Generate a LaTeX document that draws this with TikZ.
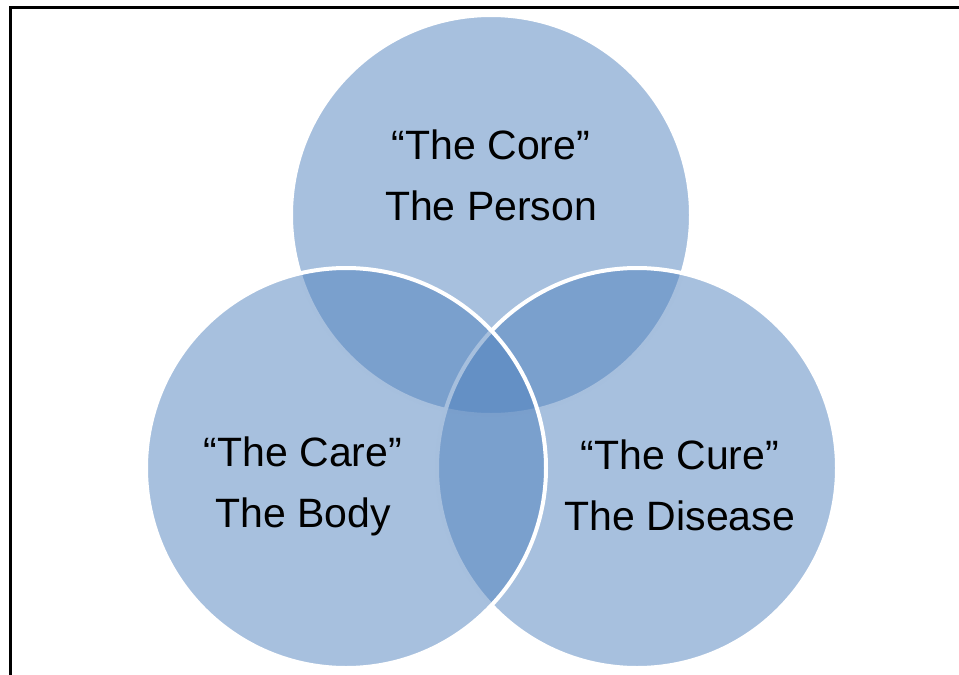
\documentclass[tikz,border=0pt]{standalone}
\usepackage{fontspec}
\setmainfont{Liberation Sans}
\usepackage{tikz}
\definecolor{vennblue}{RGB}{79,129,189}
\tikzset{
    venn/.style={circle, minimum size=400pt, inner sep=0pt, fill=vennblue, fill opacity=0.5, draw=white, line width=4pt},
    venntext/.style={align=center, anchor=base, font=\fontsize{41}{61}\selectfont}
}

\begin{document}
\begin{tikzpicture}[x=1pt, y=-1pt]
                        \useasboundingbox (0,0) rectangle (959,675);
                        \draw [line width=3pt] (10.5,675) -- (10.5,7.5) -- (959,7.5);
                        \foreach \name/\x/\y in {core/491/215, cure/637/468, care/346/468}
                        {
                            \node [venn] (\name) at (\x,\y) {};
                        }
                        \node [venntext] (coretext) at (491, 220) {“The Core”\\The Person};
                        \node [venntext] (caretext) at (303, 527) {“The Care”\\The Body};
                        \node [venntext] (curetext) at (680, 530) {“The Cure”\\The Disease};
                    \end{tikzpicture}
\end{document}
